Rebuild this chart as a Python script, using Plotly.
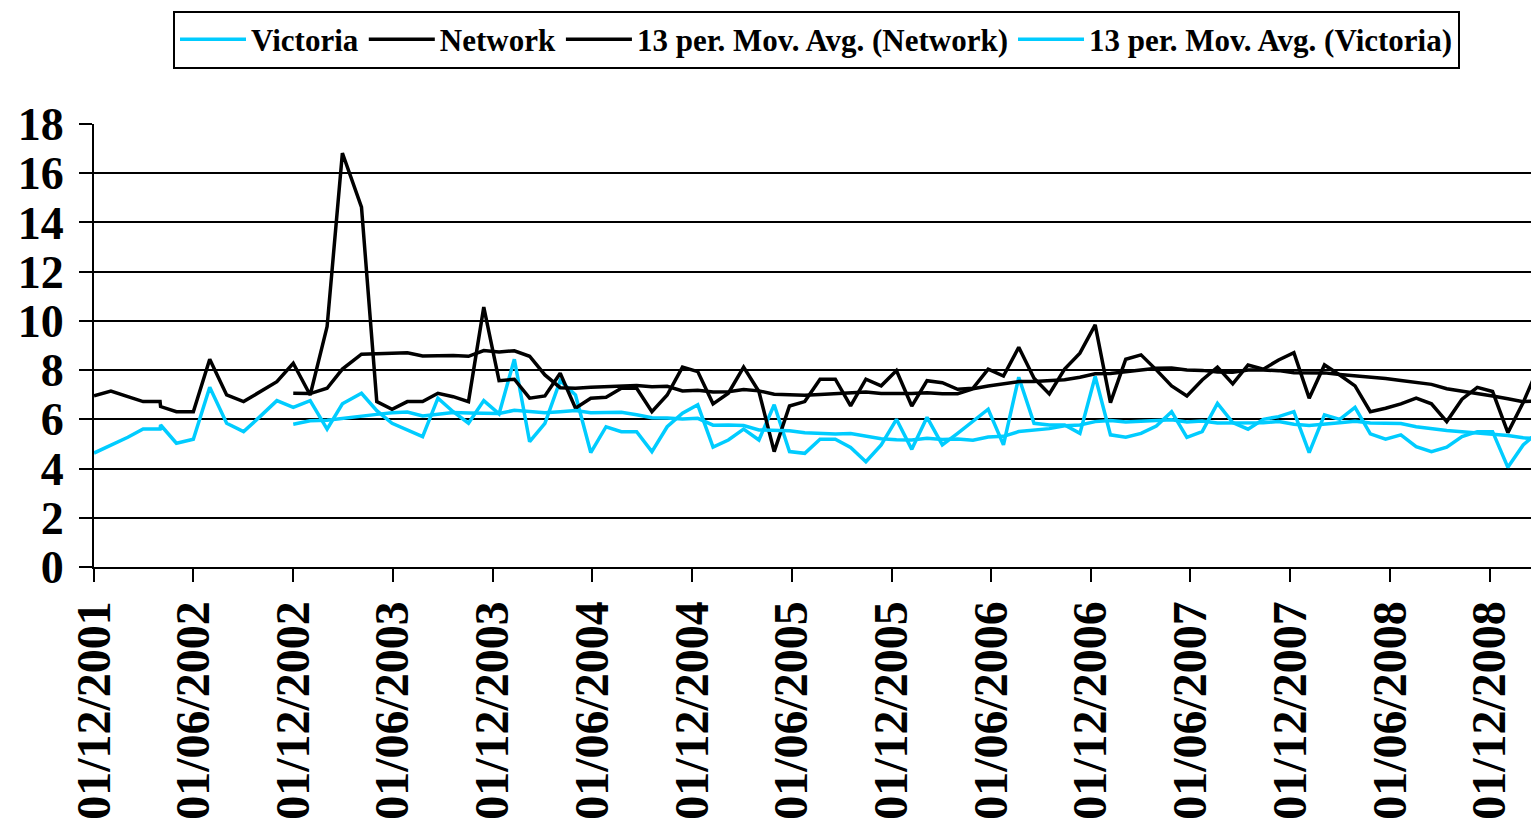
import pandas as pd
import plotly.graph_objects as go

# ---- data ----
monthly_dates = ["2001-12-01", "2002-01-01", "2002-02-01", "2002-03-01", "2002-04-01", "2002-04-02",
                 "2002-05-01", "2002-06-01", "2002-07-01", "2002-08-01", "2002-09-01", "2002-10-01",
                 "2002-11-01", "2002-12-01", "2003-01-01", "2003-02-01", "2003-03-01"]
four_weekly_start = "2003-04-05"
four_weekly_count = 78

network = [6.96, 7.15, 6.92, 6.72, 6.72, 6.52, 6.31, 6.31, 8.44, 6.99,
           6.72, 7.13, 7.53, 8.28, 6.99, 9.77, 16.82, 14.62, 6.72, 6.41,
           6.72, 6.72, 7.06, 6.92, 6.72, 10.56, 7.57, 7.63, 6.86, 6.95,
           7.87, 6.45, 6.86, 6.90, 7.26, 7.26, 6.31, 6.99, 8.12, 7.94,
           6.63, 7.06, 8.12, 7.13, 4.69, 6.54, 6.72, 7.63, 7.63, 6.55,
           7.63, 7.36, 7.98, 6.54, 7.57, 7.49, 7.22, 7.26, 8.04, 7.76,
           8.93, 7.67, 7.03, 8.04, 8.69, 9.84, 6.68, 8.44, 8.62, 8.01,
           7.36, 6.95, 7.60, 8.12, 7.44, 8.21, 8.04, 8.41, 8.71, 6.86,
           8.21, 7.80, 7.36, 6.31, 6.45, 6.63, 6.86, 6.63, 5.91, 6.82,
           7.30, 7.13, 5.46, 6.68, 8.12]

victoria = [4.63, 4.96, 5.27, 5.61, 5.61, 5.77, 5.03, 5.19, 7.30, 5.84,
            5.50, 6.11, 6.76, 6.49, 6.76, 5.60, 6.63, 7.06, 6.35, 5.84,
            5.57, 5.30, 6.86, 6.31, 5.84, 6.76, 6.22, 8.44, 5.09, 5.84,
            7.57, 6.99, 4.65, 5.70, 5.50, 5.50, 4.69, 5.70, 6.25, 6.59,
            4.87, 5.16, 5.60, 5.16, 6.59, 4.69, 4.62, 5.19, 5.19, 4.86,
            4.28, 4.96, 6.00, 4.78, 6.08, 4.96, 5.43, 5.91, 6.41, 4.96,
            7.71, 5.84, 5.77, 5.77, 5.43, 7.74, 5.37, 5.27, 5.43, 5.73,
            6.31, 5.27, 5.50, 6.65, 5.87, 5.60, 6.00, 6.11, 6.31, 4.65,
            6.18, 6.00, 6.49, 5.41, 5.19, 5.37, 4.89, 4.69, 4.87, 5.30,
            5.50, 5.50, 4.05, 4.96, 5.50]

MA_PERIOD = 13
tick_start, tick_end = "2001-12-01", "2008-12-01"
x_range = ["2001-12-01", "2009-03-01"]
y_ticks = list(range(0, 19, 2))

# ---- derived ----
dates = list(pd.to_datetime(monthly_dates)) + list(
    pd.date_range(four_weekly_start, periods=four_weekly_count, freq="28D"))


def moving_average(values):
    s = pd.Series(values).rolling(MA_PERIOD).mean()
    s.iloc[:MA_PERIOD] = float("nan")
    return [None if pd.isna(v) else v for v in s]


ma_network = moving_average(network)
ma_victoria = moving_average(victoria)
tickvals = list(pd.date_range(tick_start, tick_end, freq="6MS"))

CYAN = "#00CCFF"
BLACK = "#000000"
FONT = "Liberation Serif, Times New Roman, Times, serif"
LW = 3.5

# the page body adds an 8px margin around the figure
W, H = 1531, 811
TOP, PLOT_H = 116, 443

fig = go.Figure()
fig.add_trace(go.Scatter(x=dates, y=victoria, name="Victoria", mode="lines",
                         line=dict(color=CYAN, width=LW)))
fig.add_trace(go.Scatter(x=dates, y=network, name="Network", mode="lines",
                         line=dict(color=BLACK, width=LW)))
fig.add_trace(go.Scatter(x=dates, y=ma_network, name="13 per. Mov. Avg. (Network)", mode="lines",
                         line=dict(color=BLACK, width=LW)))
fig.add_trace(go.Scatter(x=dates, y=ma_victoria, name="13 per. Mov. Avg. (Victoria)", mode="lines",
                         line=dict(color=CYAN, width=LW)))

fig.update_layout(
    width=W, height=H,
    margin=dict(l=86, r=0, t=TOP, b=H - TOP - PLOT_H, autoexpand=False),
    paper_bgcolor="white", plot_bgcolor="white",
    showlegend=True,
    legend=dict(orientation="h", x=0.5, xanchor="center", xref="paper",
                y=1 - 31.5 / H, yanchor="middle", yref="container",
                bordercolor=BLACK, borderwidth=2, bgcolor="white",
                font=dict(family=FONT, size=31, color=BLACK, weight="bold"),
                itemwidth=66, tracegroupgap=0),
    xaxis=dict(type="date", range=x_range, tickvals=tickvals, tickformat="%d/%m/%Y",
               tickangle=-90, ticks="outside", ticklen=13, tickwidth=2, tickcolor=BLACK,
               showline=True, linecolor=BLACK, linewidth=2, showgrid=False, zeroline=False,
               automargin=False,
               tickfont=dict(family=FONT, size=48, color=BLACK, weight="bold"),
               ticklabelstandoff=0),
    yaxis=dict(range=[0, 18], tickvals=y_ticks, ticks="outside", ticklen=13, tickwidth=2,
               tickcolor=BLACK, showline=True, linecolor=BLACK, linewidth=2,
               showgrid=True, gridcolor=BLACK, gridwidth=1.5, zeroline=False,
               automargin=False,
               tickfont=dict(family=FONT, size=46, color=BLACK, weight="bold"),
               ticklabelstandoff=6),
)

fig.write_html("out.html")
